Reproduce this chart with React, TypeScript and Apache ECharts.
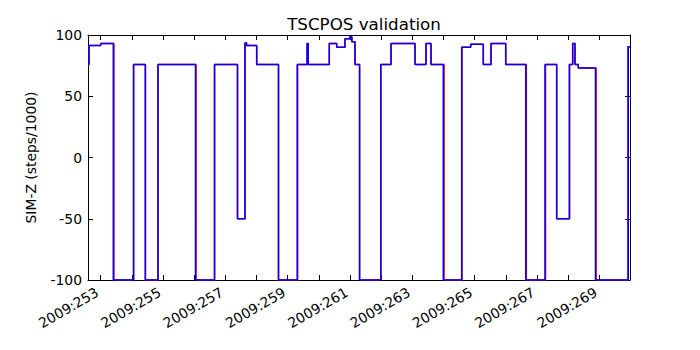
import React, { useEffect, useRef } from "react";
import * as echarts from "echarts";

const title = "TSCPOS validation";
const yName = "SIM-Z (steps/1000)";
const dayPrefix = "2009:";
const xMin = 252.592;
const xMax = 269.987;
const tickDays = [253, 254, 255, 256, 257, 258, 259, 260, 261, 262, 263, 264, 265, 266, 267, 268, 269];
const labelDays = [253, 255, 257, 259, 261, 263, 265, 267, 269];

// blue series (day of year, SIM-Z value held until next time)
const blueTimes = [
  252.592, 252.625, 253.0, 253.404, 254.053, 254.431, 254.839, 256.042, 256.652, 257.39,
  257.631, 257.68, 258.006, 258.706, 259.306, 259.625, 259.66, 260.336, 260.574, 260.84,
  261.0, 261.06, 261.161, 261.306, 261.989, 262.317, 263.087, 263.44, 263.6, 263.995,
  264.585, 264.874, 265.279, 265.526, 265.998, 266.643, 267.259, 267.634, 268.039, 268.148,
  268.222, 268.327, 268.879, 269.932, 269.987,
];
const blueValues = [
  76, 91.5, 93, -100, 76, -100, 76, -100, 76, -50,
  93.5, 91.5, 76, -100, 76, 93, 76, 93, 90, 97,
  98.5, 94.5, 76, -100, 76, 93, 76, 93, 76, -100,
  90, 92.5, 76, 93, 76, -100, 76, -50, 76, 93,
  76, 73, -100, 90.5, 90.5,
];

// red series
const redTimes = [
  252.592, 252.625, 253.0, 253.425, 254.058, 254.436, 254.839, 256.06, 256.655, 257.39,
  257.631, 257.68, 258.006, 258.706, 259.32, 259.625, 259.66, 260.336, 260.574, 260.84,
  261.0, 261.06, 261.161, 261.31, 261.99, 262.317, 263.087, 263.44, 263.6, 264.02,
  264.595, 264.874, 265.279, 265.526, 265.998, 266.66, 267.275, 267.634, 268.05, 268.148,
  268.222, 268.327, 268.9, 269.92, 269.987,
];
const redValues = [
  76, 91.5, 93, -100, 76, -100, 76, -100, 76, -50,
  93.5, 91.5, 76, -100, 76, 93, 76, 93, 90, 97,
  98.5, 94.5, 76, -100, 76, 93, 76, 93, 76, -100,
  90, 92.5, 76, 93, 76, -100, 76, -50, 76, 93,
  76, 73, -100, 90.5, 90.5,
];

const FONT = "DejaVu Sans";

export default function App() {
  const ref = useRef<HTMLDivElement>(null);
  useEffect(() => {
    document.body.style.margin = "0";
    const chart = echarts.init(ref.current!, null, { renderer: "svg" });
    const axisLineStyle = { color: "#000", width: 1 };
    const tick = { inside: true, length: 5, lineStyle: { color: "#000", width: 1 } };
    chart.setOption({
      animation: false,
      backgroundColor: "#fff",
      title: {
        text: title,
        left: 359,
        top: 10,
        textAlign: "center",
        textStyle: { fontFamily: FONT, fontSize: 16.7, fontWeight: "normal", color: "#000" },
      },
      grid: { left: 88, right: 70, top: 35, bottom: 70, containLabel: false },
      xAxis: [
        {
          type: "value",
          min: xMin,
          max: xMax,
          position: "bottom",
          axisLine: { show: true, onZero: false, lineStyle: axisLineStyle },
          axisTick: { ...tick, customValues: tickDays },
          axisLabel: {
            customValues: labelDays,
            rotate: 30,
            margin: 9,
            padding: [0, 4, 0, 0],
            fontFamily: FONT,
            fontSize: 13.9,
            color: "#000",
            formatter: (v: number) => dayPrefix + Math.round(v),
          },
          splitLine: { show: false },
        },
        {
          type: "value",
          min: xMin,
          max: xMax,
          position: "top",
          axisLine: { show: true, onZero: false, lineStyle: axisLineStyle },
          axisTick: { ...tick, customValues: tickDays },
          axisLabel: { show: false },
          splitLine: { show: false },
        },
      ],
      yAxis: [
        {
          type: "value",
          min: -100,
          max: 100,
          interval: 50,
          position: "left",
          name: yName,
          nameLocation: "middle",
          nameGap: 50,
          nameTextStyle: { fontFamily: FONT, fontSize: 13.9, color: "#000" },
          axisLine: { show: true, onZero: false, lineStyle: axisLineStyle },
          axisTick: tick,
          axisLabel: { margin: 6, fontFamily: FONT, fontSize: 13.9, color: "#000" },
          splitLine: { show: false },
        },
        {
          type: "value",
          min: -100,
          max: 100,
          interval: 50,
          position: "right",
          axisLine: { show: true, onZero: false, lineStyle: axisLineStyle },
          axisTick: tick,
          axisLabel: { show: false },
          splitLine: { show: false },
        },
      ],
      series: [
        {
          type: "line",
          step: "end",
          clip: false,
          showSymbol: false,
          symbol: "none",
          lineStyle: { color: "#ff0000", width: 1.5 },
          data: redTimes.map((t, i) => [t, redValues[i]]),
        },
        {
          type: "line",
          step: "end",
          clip: false,
          showSymbol: false,
          symbol: "none",
          lineStyle: { color: "#0000ff", width: 1.5 },
          data: blueTimes.map((t, i) => [t, blueValues[i]]),
        },
      ],
    });
    return () => chart.dispose();
  }, []);
  return <div ref={ref} style={{ width: 700, height: 350 }} />;
}
